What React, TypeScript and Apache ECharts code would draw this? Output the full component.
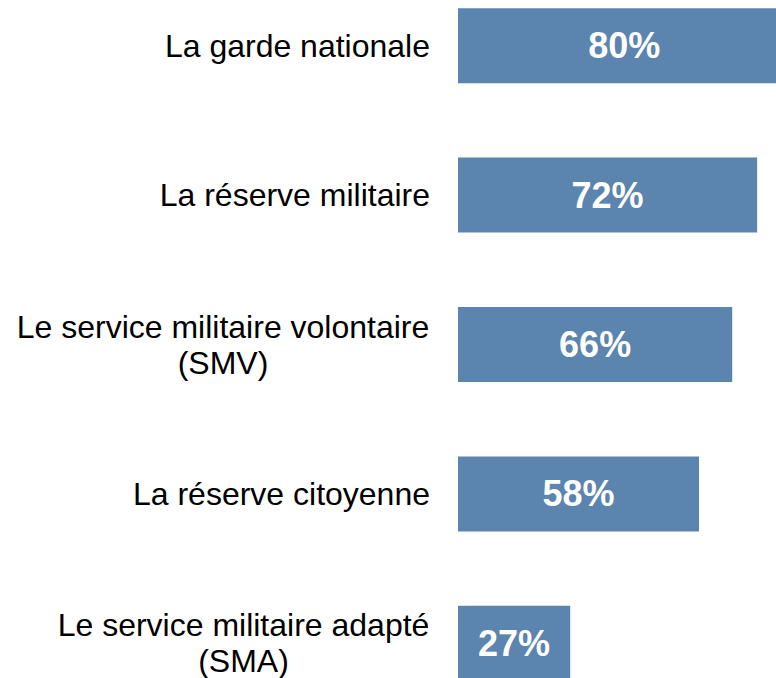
import React, { useEffect, useRef } from "react";
import * as echarts from "echarts";

const categories = [
  "La garde nationale",
  "La réserve militaire",
  "Le service militaire volontaire\n(SMV)",
  "La réserve citoyenne",
  "Le service militaire adapté\n(SMA)",
];
const values = [80, 72, 66, 58, 27];

const FONT = '"Liberation Sans", Arial, sans-serif';

function measure(text: string): number {
  const c = document.createElement("canvas").getContext("2d");
  if (!c) return text.length * 14;
  c.font = "32px " + FONT;
  return c.measureText(text).width;
}

export default function App() {
  const ref = useRef<HTMLDivElement>(null);
  useEffect(() => {
    if (!ref.current) return;
    const chart = echarts.init(ref.current, null, { renderer: "svg" });
    const rich: Record<string, any> = {};
    categories.forEach((cat, i) => {
      const lines = cat.split("\n");
      const w = Math.ceil(Math.max(...lines.map(measure))) + 1;
      rich["c" + i] = {
        width: w,
        align: "center",
        fontSize: 32,
        fontFamily: FONT,
        color: "#000",
        lineHeight: 36,
      };
    });
    chart.setOption({
      animation: false,
      grid: {
        left: 458,
        top: -29,
        width: 415.5,
        height: 747,
        containLabel: false,
        outerBoundsMode: "none",
      },
      xAxis: {
        type: "value",
        min: 0,
        max: 100,
        show: false,
        splitLine: { show: false },
      },
      yAxis: {
        type: "category",
        data: categories,
        inverse: true,
        axisLine: { show: false },
        axisTick: { show: false },
        axisLabel: {
          margin: 28,
          fontSize: 32,
          fontFamily: FONT,
          color: "#000",
          lineHeight: 36,
          align: "right",
          rich,
          formatter: (value: string, idx: number) => {
            if (value.indexOf("\n") < 0) return value;
            return value
              .split("\n")
              .map((l) => `{c${idx}|${l}}`)
              .join("\n");
          },
        },
      },
      series: [
        {
          type: "bar",
          data: values,
          barWidth: 75,
          clip: false,
          itemStyle: { color: "#5b84ae" },
          label: {
            show: true,
            position: "inside",
            formatter: "{c}%",
            color: "#fff",
            fontWeight: "bold",
            fontSize: 36,
            fontFamily: FONT,
          },
        },
      ],
    });
    return () => chart.dispose();
  }, []);
  return (
    <div
      ref={ref}
      style={{ position: "absolute", left: 0, top: 0, width: 776, height: 678, background: "#fff" }}
    />
  );
}
